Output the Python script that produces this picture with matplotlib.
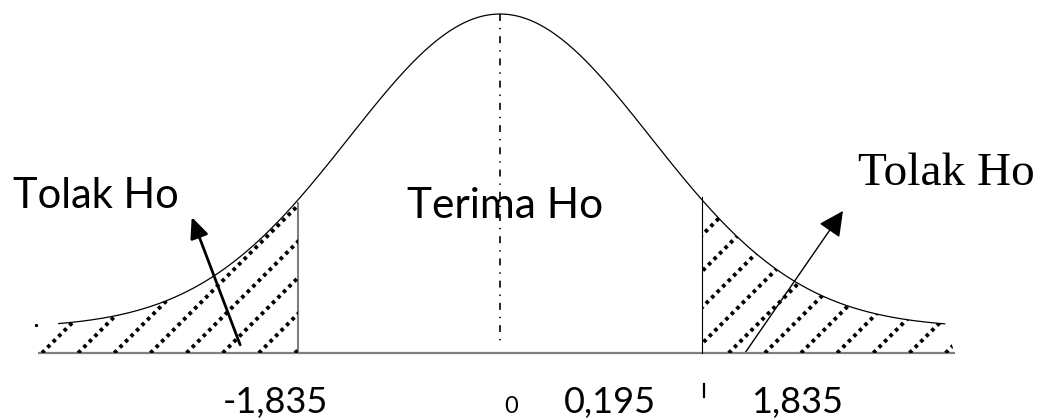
import numpy as np
import matplotlib
matplotlib.use("Agg")
import matplotlib.pyplot as plt
from matplotlib.patches import Polygon, FancyArrowPatch

plt.rcParams["lines.scale_dashes"] = False

# critical values of the two-tailed test and the computed statistic
critical_values = [-1.835, 1.835]
center_value = 0.0
t_value = 0.195

# labels under the axis: text, x position, size
axis_labels = ["-1,835", "0", "0,195", "1,835"]
axis_label_x = [-2.04, 0.10, 1.00, 2.70]
axis_label_size = [26, 17, 26, 26]

# region captions
region_labels = ["Tolak Ho", "Terima Ho", "Tolak Ho"]

# bell curve shape (floor + scaled gaussian)
curve_floor = 0.074
curve_peak = 0.926
curve_sigma = 1.37
z_left, z_right = -4.01, 4.04

PX_X = 110.1   # pixels per z unit
PX_Y = 339.0   # pixels per unit height


def bell(z):
    return curve_floor + curve_peak * np.exp(-z ** 2 / (2 * curve_sigma ** 2))


fig = plt.figure(figsize=(10.44, 4.2), dpi=100)
ax = fig.add_axes([0, 0, 1, 1])
ax.set_xlim(-500 / PX_X, 544 / PX_X)
ax.set_ylim(-67 / PX_Y, 353 / PX_Y)
ax.axis("off")

# curve
z = np.linspace(z_left, z_right, 600)
ax.plot(z, bell(z), color="black", lw=0.9, solid_capstyle="round")

# baseline
ax.plot([-4.196, 4.133], [0, 0], color="#7f7f7f", lw=1.6, solid_capstyle="butt")

# boundaries of the rejection regions
lo, hi = critical_values
ax.plot([lo, lo], [0, bell(lo) - 0.01], color="#7f7f7f", lw=1.5)
ax.plot([hi, hi], [0, bell(hi) + 0.01], color="black", lw=0.8)

# center dash-dot line
ax.plot([center_value, center_value], [1.0, 0.03], color="black", lw=1.2,
        dashes=(5, 5, 1, 5), dash_capstyle="butt")

# hatched rejection regions
zl = np.linspace(z_left, lo, 200)
left_poly = np.vstack([[[-4.18, 0.0]], np.column_stack([zl, bell(zl)]), [[lo, 0.0]]])
zr = np.linspace(hi, z_right, 200)
right_poly = np.vstack([[[hi, 0.0]], np.column_stack([zr, bell(zr)]), [[4.13, 0.0]]])

slope = PX_X / PX_Y
starts = -4.16 + 0.3283 * np.arange(-2, 30)
for poly in (left_poly, right_poly):
    patch = Polygon(poly, closed=True, facecolor="none", edgecolor="none")
    ax.add_patch(patch)
    for z0 in starts:
        xs = np.array([z0, z0 + 3.5])
        ys = (xs - z0) * slope
        ln, = ax.plot(xs, ys, color="black", lw=2.8, dashes=(2.6, 3.0),
                      dash_capstyle="butt")
        ln.set_clip_path(patch)

# arrows
ax.add_patch(FancyArrowPatch((-2.36, 0.024), (-2.80, 0.401),
                             arrowstyle="-|>,head_length=0.9,head_width=0.4",
                             mutation_scale=14, lw=2.0, color="black",
                             shrinkA=0, shrinkB=0))
ax.add_patch(FancyArrowPatch((2.225, 0.0), (3.115, 0.419),
                             arrowstyle="-|>,head_length=1.1,head_width=0.55",
                             mutation_scale=14, lw=1.0, color="black",
                             shrinkA=0, shrinkB=0))

# captions
sans = ["Lato", "DejaVu Sans"]
ax.text(-4.42, 0.428, region_labels[0], fontsize=30, family=sans,
        ha="left", va="baseline")
ax.text(0.05, 0.398, region_labels[1], fontsize=30.5, family=sans,
        ha="center", va="baseline")
ax.text(3.25, 0.496, region_labels[2], fontsize=34, family="Liberation Serif",
        ha="left", va="baseline")

for txt, x, s in zip(axis_labels, axis_label_x, axis_label_size):
    ax.text(x, -0.177, txt, fontsize=s, family=sans, ha="center", va="baseline")

# small stray marks
ax.plot([1.853, 1.853], [-0.090, -0.130], color="black", lw=1.6)
ax.plot([-4.21], [0.083], marker="s", ms=1.2, color="black")

fig.savefig("out.png", dpi=100)
